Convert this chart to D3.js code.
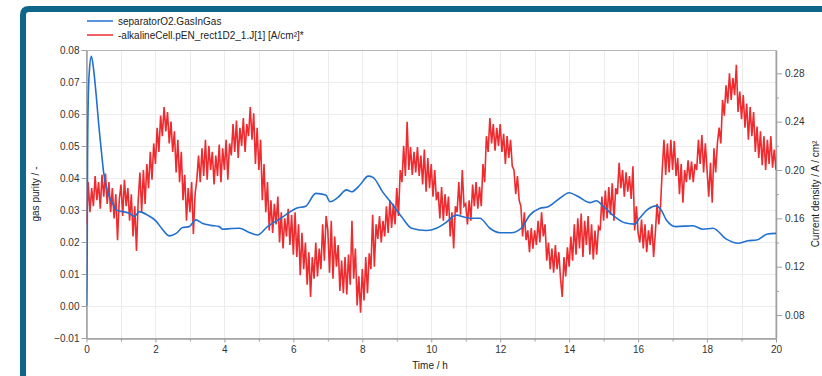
<!DOCTYPE html>
<html>
<head>
<meta charset="utf-8">
<script src="https://cdn.jsdelivr.net/npm/d3@7"></script>
<style>
  html, body { margin: 0; padding: 0; background: #fff; }
  svg { display: block; font-family: "Liberation Sans", Arial, sans-serif; }
</style>
</head>
<body>
<svg id="chart" width="822" height="376"></svg>
<script>
// ---- data ----
const seriesNames = ["separatorO2.GasInGas", "-alkalineCell.pEN_rect1D2_1.J[1] [A/cm²]*"];
const axisTitles = { x: "Time / h", left: "gas purity / -", right: "Current density / A / cm²" };

const timeTicks = [0, 2, 4, 6, 8, 10, 12, 14, 16, 18, 20];
const timeMinorTicks = [1, 3, 5, 7, 9, 11, 13, 15, 17, 19];
const timeGrid = [1, 2, 3, 4, 5, 6, 7, 8, 9, 10, 11, 12, 13, 14, 15, 16, 17, 18, 19];
const purityTicks = [-0.01, 0.00, 0.01, 0.02, 0.03, 0.04, 0.05, 0.06, 0.07, 0.08];
const currentTicks = [0.08, 0.12, 0.16, 0.20, 0.24, 0.28];
const currentMinorTicks = [0.10, 0.14, 0.18, 0.22, 0.26];

// gas purity (left axis): [time h, value]
const purityPoints = [
  [0, 0.000], [0.02, 0.016], [0.03, 0.045], [0.05, 0.064], [0.08, 0.073], [0.14, 0.078],
  [0.2, 0.0745], [0.28, 0.066], [0.36, 0.056], [0.44, 0.0475], [0.5, 0.0415], [0.58, 0.037],
  [0.66, 0.0342], [0.76, 0.032], [0.86, 0.030], [1.24, 0.029], [1.39, 0.028], [1.53, 0.0295],
  [1.77, 0.0284], [2.01, 0.0266], [2.2, 0.024], [2.4, 0.0219], [2.6, 0.0227], [2.79, 0.0245],
  [2.98, 0.0248], [3.17, 0.0269], [3.37, 0.0258], [3.6, 0.0252], [3.85, 0.0248], [3.95, 0.024],
  [4.2, 0.0242], [4.43, 0.0243], [4.72, 0.023], [4.96, 0.0222], [5.25, 0.0248], [5.59, 0.0271],
  [5.85, 0.029], [6.07, 0.0305], [6.36, 0.0312], [6.65, 0.0352], [6.94, 0.0347], [7.06, 0.0326],
  [7.3, 0.034], [7.54, 0.0363], [7.69, 0.0357], [7.93, 0.0378], [8.17, 0.0406], [8.31, 0.0402],
  [8.6, 0.0355], [8.85, 0.0321], [9.14, 0.0279], [9.43, 0.0243], [9.86, 0.0236], [10.15, 0.0243],
  [10.39, 0.0258], [10.73, 0.0284], [10.95, 0.0278], [11.12, 0.0274], [11.41, 0.0274], [11.7, 0.0243],
  [11.99, 0.0229], [12.32, 0.0229], [12.61, 0.0243], [12.86, 0.0284], [13.14, 0.0305], [13.39, 0.031],
  [13.72, 0.0336], [14.0, 0.0354], [14.26, 0.0342], [14.6, 0.0323], [14.79, 0.0329], [14.98, 0.0313],
  [15.32, 0.0279], [15.61, 0.026], [15.9, 0.0256], [16.04, 0.0274], [16.28, 0.0302], [16.53, 0.0313],
  [16.67, 0.030], [16.82, 0.0269], [17.1, 0.0248], [17.59, 0.0251], [17.88, 0.024], [18.17, 0.0243],
  [18.56, 0.0209], [18.9, 0.0196], [19.18, 0.0204], [19.43, 0.0206], [19.76, 0.0225], [20, 0.0227]
];

// current density (right axis), sampled every 0.05 h from 0 to 20 h
const currentStep = 0.05;
const currentValues = [
  0.155, 0.190, 0.165, 0.185, 0.170, 0.195, 0.175, 0.190, 0.168, 0.196,
  0.178, 0.197, 0.172, 0.190, 0.165, 0.185, 0.160, 0.180, 0.142, 0.175,
  0.188, 0.162, 0.192, 0.170, 0.185, 0.158, 0.180, 0.145, 0.170, 0.133,
  0.175, 0.198, 0.165, 0.200, 0.172, 0.205, 0.185, 0.215, 0.192, 0.222,
  0.205, 0.235, 0.215, 0.245, 0.228, 0.252, 0.232, 0.248, 0.222, 0.240,
  0.215, 0.232, 0.198, 0.225, 0.190, 0.215, 0.175, 0.196, 0.158, 0.185,
  0.165, 0.190, 0.147, 0.180, 0.192, 0.212, 0.190, 0.218, 0.195, 0.225,
  0.192, 0.220, 0.200, 0.215, 0.188, 0.212, 0.195, 0.221, 0.190, 0.218,
  0.200, 0.225, 0.192, 0.222, 0.212, 0.238, 0.215, 0.241, 0.210, 0.235,
  0.220, 0.243, 0.215, 0.238, 0.228, 0.252, 0.225, 0.247, 0.205, 0.235,
  0.200, 0.225, 0.175, 0.205, 0.165, 0.190, 0.150, 0.175, 0.148, 0.172,
  0.155, 0.178, 0.140, 0.165, 0.135, 0.160, 0.145, 0.168, 0.138, 0.163,
  0.130, 0.165, 0.128, 0.155, 0.113, 0.148, 0.118, 0.140, 0.105, 0.132,
  0.095, 0.128, 0.110, 0.140, 0.112, 0.135, 0.118, 0.155, 0.125, 0.162,
  0.150, 0.115, 0.158, 0.110, 0.145, 0.120, 0.138, 0.100, 0.125, 0.098,
  0.128, 0.097, 0.130, 0.105, 0.158, 0.110, 0.135, 0.088, 0.112, 0.082,
  0.118, 0.092, 0.128, 0.098, 0.131, 0.118, 0.163, 0.120, 0.155, 0.143,
  0.162, 0.140, 0.158, 0.145, 0.170, 0.148, 0.175, 0.152, 0.172, 0.155,
  0.185, 0.162, 0.200, 0.190, 0.220, 0.195, 0.240, 0.200, 0.219, 0.196,
  0.215, 0.198, 0.219, 0.195, 0.212, 0.188, 0.217, 0.182, 0.210, 0.185,
  0.205, 0.178, 0.200, 0.175, 0.182, 0.160, 0.186, 0.158, 0.180, 0.162,
  0.178, 0.145, 0.165, 0.135, 0.170, 0.165, 0.190, 0.163, 0.200, 0.170,
  0.172, 0.155, 0.175, 0.158, 0.188, 0.170, 0.190, 0.168, 0.186, 0.170,
  0.205, 0.190, 0.228, 0.215, 0.243, 0.222, 0.238, 0.216, 0.235, 0.220,
  0.238, 0.215, 0.230, 0.205, 0.228, 0.210, 0.225, 0.203, 0.200, 0.180,
  0.195, 0.175, 0.170, 0.145, 0.165, 0.142, 0.150, 0.132, 0.152, 0.135,
  0.150, 0.138, 0.158, 0.140, 0.165, 0.145, 0.155, 0.125, 0.140, 0.118,
  0.135, 0.115, 0.138, 0.118, 0.132, 0.110, 0.095, 0.128, 0.112, 0.136,
  0.120, 0.145, 0.125, 0.155, 0.130, 0.160, 0.135, 0.164, 0.128, 0.158,
  0.138, 0.162, 0.130, 0.155, 0.126, 0.150, 0.130, 0.153, 0.150, 0.178,
  0.158, 0.183, 0.160, 0.186, 0.163, 0.189, 0.158, 0.185, 0.180, 0.206,
  0.185, 0.200, 0.178, 0.198, 0.182, 0.195, 0.176, 0.203, 0.150, 0.170,
  0.148, 0.140, 0.159, 0.135, 0.155, 0.132, 0.150, 0.138, 0.155, 0.128,
  0.148, 0.172, 0.155, 0.170, 0.200, 0.225, 0.196, 0.222, 0.198, 0.225,
  0.200, 0.224, 0.195, 0.210, 0.180, 0.205, 0.173, 0.200, 0.190, 0.208,
  0.192, 0.207, 0.190, 0.205, 0.200, 0.225, 0.205, 0.229, 0.198, 0.222,
  0.200, 0.178, 0.206, 0.173, 0.218, 0.198, 0.222, 0.235, 0.222, 0.258,
  0.245, 0.270, 0.255, 0.280, 0.258, 0.276, 0.262, 0.287, 0.248, 0.265,
  0.242, 0.262, 0.235, 0.255, 0.225, 0.252, 0.228, 0.248, 0.215, 0.236,
  0.210, 0.232, 0.204, 0.228, 0.200, 0.225, 0.205, 0.228, 0.202, 0.217,
  0.200
];

// ---- layout ----
const W = 822, H = 376;
const plot = { left: 86.5, right: 776, top: 50, bottom: 338 };
const colors = { frame: "#0e6689", purity: "#2170d0", current: "#ee2b2f", axis: "#a0a0a0", grid: "#ececec", text: "#222" };

const svg = d3.select("#chart");

const x = d3.scaleLinear().domain([0, 20]).range([plot.left, plot.right]);
const yL = d3.scaleLinear().domain([-0.01, 0.08]).range([plot.bottom, plot.top]);
const yR = d3.scaleLinear().domain([0.061, 0.2993]).range([plot.bottom, plot.top]);

// window frame
svg.append("path")
  .attr("d", `M23,${H + 20} V15 Q23,9 29,9 H${W + 20}`)
  .attr("fill", "none")
  .attr("stroke", colors.frame)
  .attr("stroke-width", 6);

// grid
const grid = svg.append("g").attr("stroke", colors.grid).attr("stroke-width", 1);
grid.selectAll("line.v").data(timeGrid).join("line")
  .attr("x1", d => Math.round(x(d)) + 0.5).attr("x2", d => Math.round(x(d)) + 0.5)
  .attr("y1", plot.top).attr("y2", plot.bottom);
grid.selectAll("line.h").data(purityTicks.slice(1, -1)).join("line")
  .attr("x1", plot.left).attr("x2", plot.right)
  .attr("y1", d => Math.round(yL(d)) + 0.5).attr("y2", d => Math.round(yL(d)) + 0.5);

// plot box
svg.append("rect")
  .attr("x", plot.left).attr("y", plot.top + 0.5)
  .attr("width", plot.right - plot.left).attr("height", plot.bottom - plot.top)
  .attr("fill", "none").attr("stroke", "#b8b8b8").attr("stroke-width", 1);

// clip
svg.append("clipPath").attr("id", "plotclip").append("rect")
  .attr("x", plot.left).attr("y", plot.top)
  .attr("width", plot.right - plot.left).attr("height", plot.bottom - plot.top);

// axes
const fmtL = d3.format(".2f");
const axisStyle = g => {
  g.select(".domain").attr("stroke", colors.axis).attr("stroke-width", 1.5);
  g.selectAll(".tick line").attr("stroke", colors.axis);
  g.selectAll(".tick text").attr("fill", "#333").style("font-size", "10px")
    .style("font-family", '"Liberation Sans", Arial, sans-serif');
};

svg.append("g")
  .attr("transform", `translate(0,${plot.bottom + 0.5})`)
  .call(d3.axisBottom(x).tickValues(timeTicks).tickFormat(d3.format("d")).tickSize(4).tickPadding(3).tickSizeOuter(0))
  .call(axisStyle);
svg.append("g")
  .attr("transform", `translate(0,${plot.bottom + 0.5})`)
  .call(d3.axisBottom(x).tickValues(timeMinorTicks).tickFormat("").tickSize(3).tickSizeOuter(0))
  .call(g => g.select(".domain").remove())
  .call(g => g.selectAll(".tick line").attr("stroke", colors.axis));

svg.append("g")
  .attr("transform", `translate(${plot.left},0)`)
  .call(d3.axisLeft(yL).tickValues(purityTicks).tickFormat(fmtL).tickSize(5).tickPadding(2).tickSizeOuter(0))
  .call(axisStyle);

svg.append("g")
  .attr("transform", `translate(${plot.right},0)`)
  .call(d3.axisRight(yR).tickValues(currentTicks).tickFormat(fmtL).tickSize(6).tickPadding(3).tickSizeOuter(0))
  .call(axisStyle);
svg.append("g")
  .attr("transform", `translate(${plot.right},0)`)
  .call(d3.axisRight(yR).tickValues(currentMinorTicks).tickFormat("").tickSize(3).tickSizeOuter(0))
  .call(g => g.select(".domain").remove())
  .call(g => g.selectAll(".tick line").attr("stroke", colors.axis));

// axis titles
svg.append("text")
  .attr("x", 430).attr("y", 369)
  .attr("text-anchor", "middle").attr("fill", colors.text)
  .style("font-size", "10px").text(axisTitles.x);
svg.append("text")
  .attr("transform", `translate(38.5,${(plot.top + plot.bottom) / 2}) rotate(-90)`)
  .attr("text-anchor", "middle").attr("fill", colors.text)
  .style("font-size", "10px").text(axisTitles.left);
svg.append("text")
  .attr("transform", `translate(818.5,${(plot.top + plot.bottom) / 2}) rotate(-90)`)
  .attr("text-anchor", "middle").attr("fill", colors.text)
  .style("font-size", "10px").text(axisTitles.right);

// series
const lines = svg.append("g").attr("clip-path", "url(#plotclip)");

lines.append("path")
  .datum(currentValues)
  .attr("fill", "none")
  .attr("stroke", colors.current)
  .attr("stroke-width", 1.6)
  .attr("stroke-linejoin", "miter")
  .attr("d", d3.line().x((d, i) => x(i * currentStep)).y(d => yR(d)));

lines.append("path")
  .datum(purityPoints)
  .attr("fill", "none")
  .attr("stroke", colors.purity)
  .attr("stroke-width", 1.6)
  .attr("stroke-linejoin", "round")
  .attr("d", d3.line().x(d => x(d[0])).y(d => yL(d[1])).curve(d3.curveMonotoneX));

// legend
const legend = svg.append("g");
const legendColors = [colors.purity, colors.current];
seriesNames.forEach((name, i) => {
  const yy = 21 + i * 14;
  legend.append("line")
    .attr("x1", 87).attr("x2", 113).attr("y1", yy).attr("y2", yy)
    .attr("stroke", legendColors[i]).attr("stroke-width", 1.5);
  legend.append("text")
    .attr("x", 118).attr("y", yy + 3.5)
    .attr("fill", colors.text)
    .style("font-size", "10px")
    .text(name);
});
</script>
</body>
</html>
